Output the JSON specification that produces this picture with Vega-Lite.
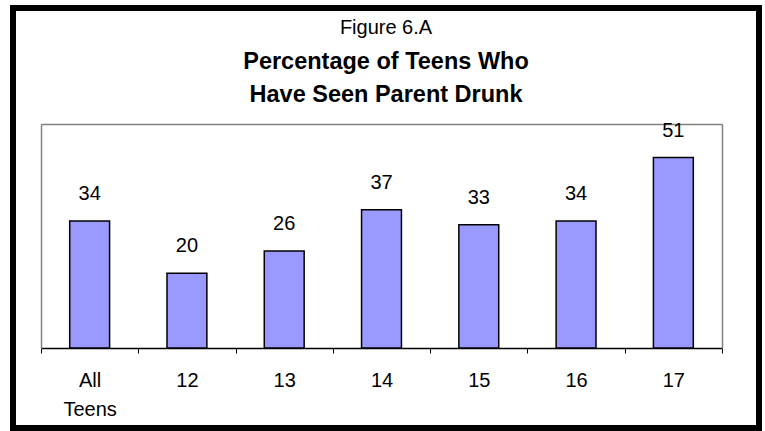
{
  "$schema": "https://vega.github.io/schema/vega-lite/v6.json",
  "autosize": {"type": "none"},
  "padding": {"left": 13, "top": 8, "right": 6, "bottom": 3},
  "width": 746,
  "height": 420,
  "background": "white",
  "config": {
    "font": "Liberation Sans",
    "view": {"stroke": "black", "strokeWidth": 6, "fill": "white"}
  },
  "title": {
    "text": "Figure 6.A",
    "subtitle": ["Percentage of Teens Who", "Have Seen Parent Drunk"],
    "anchor": "middle",
    "frame": "group",
    "orient": "top",
    "offset": -98,
    "font": "Liberation Sans",
    "fontSize": 20,
    "fontWeight": "normal",
    "color": "black",
    "subtitleFont": "Liberation Sans",
    "subtitleFontSize": 23.5,
    "subtitleFontWeight": "bold",
    "subtitleColor": "black",
    "subtitleLineHeight": 33,
    "subtitlePadding": 12
  },
  "data": {
    "values": [
      {"group": "All Teens", "pct": 34},
      {"group": "12", "pct": 20},
      {"group": "13", "pct": 26},
      {"group": "14", "pct": 37},
      {"group": "15", "pct": 33},
      {"group": "16", "pct": 34},
      {"group": "17", "pct": 51}
    ]
  },
  "encoding": {
    "x": {
      "field": "group",
      "type": "nominal",
      "sort": null,
      "scale": {"range": [28, 709], "paddingInner": 0, "paddingOuter": 0}
    },
    "y": {
      "field": "pct",
      "type": "quantitative",
      "scale": {"domain": [0, 60], "range": [340, 116], "nice": false, "zero": true}
    }
  },
  "layer": [
    {
      "mark": {"type": "bar", "fill": "#9999FF", "stroke": "black", "strokeWidth": 1.5, "width": {"band": 0.41}},
      "encoding": {
        "x": {
          "field": "group",
          "type": "nominal",
          "sort": null,
          "axis": {
            "orient": "bottom",
            "offset": -80,
            "title": null,
            "labelAngle": 0,
            "domainColor": "black",
            "domainWidth": 1.5,
            "tickColor": "black",
            "tickWidth": 1,
            "tickSize": 5,
            "tickBand": "extent",
            "labelFont": "Liberation Sans",
            "labelFontSize": 20,
            "labelColor": "black",
            "labelBaseline": "alphabetic",
            "labelPadding": 33,
            "labelLineHeight": 29,
            "labelExpr": "datum.value == 'All Teens' ? ['All', 'Teens'] : datum.value"
          }
        },
        "y": {
          "field": "pct",
          "type": "quantitative",
          "axis": {
            "orient": "left",
            "offset": -28,
            "title": null,
            "labels": false,
            "ticks": false,
            "grid": false,
            "domainColor": "#808080",
            "domainWidth": 1.5
          }
        }
      }
    },
    {
      "mark": {"type": "text", "dy": -21, "baseline": "alphabetic", "fontSize": 20, "font": "Liberation Sans", "color": "black"},
      "encoding": {
        "text": {"field": "pct", "type": "quantitative"},
        "x": {
          "field": "group",
          "type": "nominal",
          "sort": null,
          "axis": {
            "orient": "top",
            "offset": -116,
            "title": null,
            "labels": false,
            "ticks": false,
            "domainColor": "#808080",
            "domainWidth": 1.5
          }
        },
        "y": {
          "field": "pct",
          "type": "quantitative",
          "axis": {
            "orient": "right",
            "offset": -37,
            "title": null,
            "labels": false,
            "ticks": false,
            "grid": false,
            "domainColor": "#808080",
            "domainWidth": 1.5
          }
        }
      }
    }
  ],
  "resolve": {"axis": {"x": "independent", "y": "independent"}}
}
